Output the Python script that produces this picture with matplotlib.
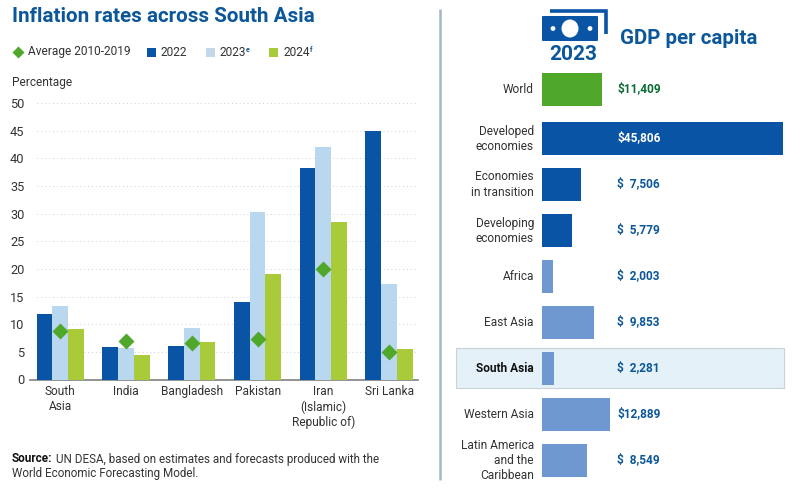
import matplotlib
matplotlib.use("Agg")
import matplotlib.pyplot as plt
from matplotlib.patches import Rectangle, FancyBboxPatch, Ellipse, Circle

plt.rcParams['font.family'] = ['Roboto', 'DejaVu Sans']

countries = ['South\nAsia', 'India', 'Bangladesh', 'Pakistan', 'Iran\n(Islamic)\nRepublic of)', 'Sri Lanka']
infl_2022 = [11.8, 5.9, 6.1, 14.1, 38.2, 45.0]
infl_2023 = [13.3, 5.7, 9.3, 30.2, 42.0, 17.2]
infl_2024 = [9.2, 4.4, 6.8, 19.1, 28.5, 5.6]
infl_avg = [8.7, 7.0, 6.6, 7.3, 20.0, 4.9]
yticks = [0, 5, 10, 15, 20, 25, 30, 35, 40, 45, 50]

regions = ['World', 'Developed\neconomies', 'Economies\nin transition', 'Developing\neconomies', 'Africa',
           'East Asia', 'South Asia', 'Western Asia', 'Latin America\nand the\nCaribbean']
gdp = [11409, 45806, 7506, 5779, 2003, 9853, 2281, 12889, 8549]
gdp_labels = ['$11,409', '$45,806', '$  7,506', '$  5,779', '$  2,003', '$  9,853', '$  2,281', '$12,889', '$  8,549']

BLUE = '#0A54A5'
LIGHT = '#B9D7EE'
LIME = '#A9CB3A'
GREEN = '#4FA82A'
TITLE = '#0B5799'
MID = '#6F97D0'
TEXT = '#333333'
W, H = 800, 488


def px_axes(x0, y0, x1, y1):
    # axes placed by pixel box, y measured from the top of the image
    return fig.add_axes([x0 / W, 1 - y1 / H, (x1 - x0) / W, (y1 - y0) / H])


fig = plt.figure(figsize=(8, 4.88), dpi=100)

# full-figure layer for titles, legend, icon and divider
bg = px_axes(0, 0, W, H)
bg.set_xlim(0, W)
bg.set_ylim(H, 0)
bg.axis('off')

bg.text(12, 17, 'Inflation rates across South Asia', fontsize=14.9, fontweight='bold', color=TITLE, va='center')

# legend
bg.plot(18, 52, marker='D', ms=6, color=GREEN, mec='none')
bg.text(27.5, 52, 'Average 2010-2019', fontsize=8.6, color=TEXT, va='center')
bg.add_patch(Rectangle((147, 47.5), 9, 9, color=BLUE, lw=0))
bg.text(160.5, 52, '2022', fontsize=8.6, color=TEXT, va='center')
bg.add_patch(Rectangle((205.5, 47.5), 9, 9, color='#C3D8E8', lw=0))
bg.text(219, 52, '2023', fontsize=8.6, color=TEXT, va='center')
bg.text(246, 49.5, 'e', fontsize=5, fontweight='bold', color=TITLE, va='center')
bg.add_patch(Rectangle((269, 47.5), 9, 9, color=LIME, lw=0))
bg.text(283, 52, '2024', fontsize=8.6, color=TEXT, va='center')
bg.text(309.5, 49.5, 'f', fontsize=5, fontweight='bold', color=TITLE, va='center')

bg.text(12, 82.5, 'Percentage', fontsize=8.6, color=TEXT, va='center')

bg.text(12, 459, 'Source:', fontsize=8.5, fontweight='bold', color='#111111', va='center')
bg.text(56, 459, 'UN DESA, based on estimates and forecasts produced with the', fontsize=8.4, color=TEXT, va='center')
bg.text(12, 474, 'World Economic Forecasting Model.', fontsize=8.4, color=TEXT, va='center')

bg.plot([440, 440], [9, 480], color='#9DBABF', lw=1.8, solid_capstyle='butt')

# banknote icon
bg.plot([550, 605.5, 605.5], [10.5, 10.5, 34], color=BLUE, lw=2.6, solid_joinstyle='miter', solid_capstyle='butt')
bg.add_patch(FancyBboxPatch((542, 16), 56, 25, boxstyle='round,pad=0,rounding_size=1', color=BLUE, lw=0))
bg.add_patch(Ellipse((570, 28.5), 17, 18, color='white', lw=0))
bg.add_patch(Circle((553, 28.5), 2.4, color='white', lw=0))
bg.add_patch(Circle((590, 28.5), 2.4, color='white', lw=0))
bg.text(573, 55, '2023', fontsize=15, fontweight='bold', color=TITLE, ha='center', va='center')
bg.text(620, 38, 'GDP per capita', fontsize=14.8, fontweight='bold', color=TITLE, va='center')

# South Asia highlight box, with a soft shadow under it
bg.add_patch(Rectangle((457, 348.5), 328, 40, facecolor='#B4BCC0', lw=0))
bg.add_patch(Rectangle((456, 347.5), 328, 40, facecolor='#E4F1F9', edgecolor='#C9D2D6', lw=0.8))

# left chart: inflation
ax = px_axes(30, 103, 418, 379.5)
ax.patch.set_alpha(0)
pos = list(range(len(countries)))
bar_w = 0.24
ax.hlines(yticks[1:], -0.36, 5.42, color='#CFCFCF', lw=0.7, ls=(0, (1, 3)), zorder=0)
ax.bar([p - bar_w for p in pos], infl_2022, bar_w, color=BLUE, zorder=3)
ax.bar(pos, infl_2023, bar_w, color=LIGHT, zorder=3)
ax.bar([p + bar_w for p in pos], infl_2024, bar_w, color=LIME, zorder=3)
ax.plot(pos, infl_avg, ls='none', marker='D', ms=8, color=GREEN, mec='none', zorder=4)
ax.set_xlim(-0.461, 5.44)
ax.set_ylim(0, 50)
ax.set_yticks(yticks)
ax.set_xticks(pos)
ax.set_xticklabels(countries, fontsize=8.6, color=TEXT, linespacing=1.2)
ax.tick_params(axis='x', length=0, pad=4)
ax.tick_params(axis='y', length=0, pad=4, labelsize=9.2, labelcolor=TEXT)
for s in ['top', 'right', 'left']:
    ax.spines[s].set_visible(False)
ax.spines['bottom'].set_color('#808080')
ax.spines['bottom'].set_linewidth(1.2)

# right chart: GDP per capita
ax2 = px_axes(542, 60, 783, 488)
ax2.patch.set_alpha(0)
ax2.axis('off')
ax2.set_xlim(0, gdp[1])
ax2.set_ylim(488, 60)
ypos = [89] + [138 + 46 * i for i in range(len(regions) - 1)]
colors = [GREEN, BLUE, BLUE, BLUE] + [MID] * 5
ax2.barh(ypos, gdp, height=33, color=colors, lw=0)

for name, val, lab, y in zip(regions, gdp, gdp_labels, ypos):
    sa = name == 'South Asia'
    ax2.annotate(name, (0, y + 0.5), xytext=(-8, 0), textcoords='offset pixels', ha='right', va='center',
                 multialignment='right', fontsize=8.6, linespacing=1.2, annotation_clip=False,
                 color='#111111' if sa else TEXT, fontweight='bold' if sa else 'normal')
    if name == 'Developed\neconomies':
        lab_color = 'white'
    elif name == 'World':
        lab_color = '#0B6B35'
    else:
        lab_color = TITLE
    ax2.text(75 / 241 * gdp[1], y, lab, color=lab_color, fontsize=8.6, fontweight='bold', va='center')

fig.savefig('out.png', dpi=100)
